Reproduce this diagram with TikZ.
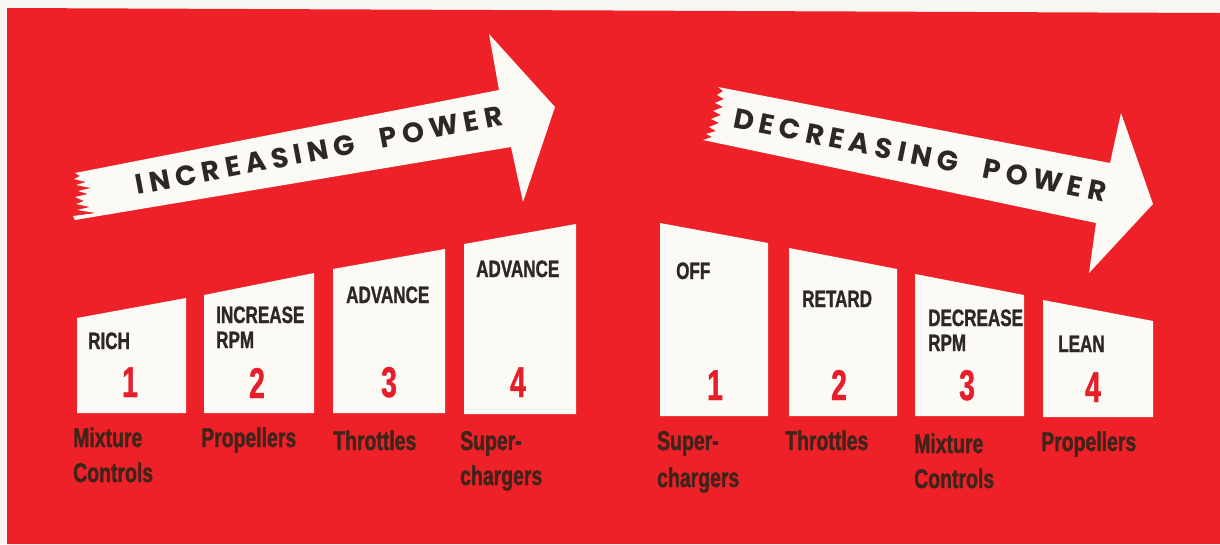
\documentclass[tikz,border=0pt]{standalone}
\usepackage{fontspec}
\newfontfamily\condfont{Liberation Sans}[FakeStretch=0.72,FakeBold=1.2]
\newfontfamily\numfont{Liberation Sans}[FakeStretch=0.66,FakeBold=1]
\newfontfamily\arrowfont{Poppins}[LetterSpace=20]
\definecolor{bgred}{RGB}{238,32,40}
\definecolor{numred}{RGB}{230,30,42}
\definecolor{cardwhite}{RGB}{252,250,245}
\definecolor{paper}{RGB}{248,246,240}
\definecolor{labgray}{RGB}{44,40,40}
\definecolor{labbrown}{RGB}{62,36,26}
\tikzset{
  card/.style={fill=cardwhite},
  toplab/.style={anchor=base west, inner sep=0pt, font=\condfont\bfseries\fontsize{23.7}{24}\selectfont, text=labgray},
  botlab/.style={anchor=base west, inner sep=0pt, font=\condfont\bfseries\fontsize{27}{28}\selectfont, text=labbrown},
  numlab/.style={anchor=base, inner sep=0pt, font=\numfont\bfseries\fontsize{43}{44}\selectfont, text=numred},
  arrowtxt/.style={anchor=base, inner sep=0pt, font=\arrowfont\bfseries\fontsize{28}{30}\selectfont, text=labgray}
}
\begin{document}
\begin{tikzpicture}[x=1pt,y=-1pt]
\useasboundingbox (0,0) rectangle (1220,544);
\fill[paper] (0,0) rectangle (1220,544);
\fill[bgred] (7,8) -- (1220,13) -- (1220,544) -- (7,544) -- cycle;

% increasing arrow
\fill[cardwhite] (75,173) -- (499,90) -- (489,34) -- (555,107) -- (523,202) -- (511,147) -- (75,220)
  -- (73,216) -- (96,213) -- (77,210) -- (90,207) -- (76,204) -- (84,201) -- (75,197) -- (88,194)
  -- (78,191) -- (91,188) -- (76,185) -- (86,182) -- (74,179) -- (80,176) -- cycle;
\node[arrowtxt, rotate=10.8] (inc) at (321,160) {INCREASING\hspace{14pt} POWER};

% decreasing arrow
\fill[cardwhite] (718,87) -- (1110,163) -- (1121,113) -- (1153,204) -- (1089,273) -- (1096,223) -- (703,140)
  -- (712,137) -- (706,134) -- (716,131) -- (709,127) -- (719,123) -- (711,119) -- (721,115)
  -- (713,111) -- (723,107) -- (715,103) -- (724,99) -- (717,95) -- (723,91) -- cycle;
\node[arrowtxt, rotate=-11.4] (dec) at (918,165) {DECREASING\hspace{14pt} POWER};

% left cards
\fill[card] (77,413) -- (77,318) -- (186,298) -- (186,413) -- cycle;
\fill[card] (204,413) -- (204,295) -- (314,273) -- (314,413) -- cycle;
\fill[card] (333,413) -- (333,269) -- (445,249) -- (445,413) -- cycle;
\fill[card] (464,414) -- (464,244) -- (576,224) -- (576,414) -- cycle;
% right cards
\fill[card] (660,416) -- (660,223) -- (768,243) -- (768,416) -- cycle;
\fill[card] (789,416) -- (789,248) -- (897,269) -- (897,416) -- cycle;
\fill[card] (915,416) -- (915,274) -- (1024,295) -- (1024,416) -- cycle;
\fill[card] (1043,417) -- (1043,300) -- (1153,321) -- (1153,417) -- cycle;

% left labels
\node[toplab] (l1t) at (88,349) {RICH};
\node[numlab] (l1n) at (130,397) {1};
\node[botlab] (l1b) at (73,447) {Mixture};
\node[botlab] (l1c) at (73,482) {Controls};

\node[toplab] (l2t) at (216,323) {INCREASE};
\node[toplab] (l2u) at (216,348) {RPM};
\node[numlab] (l2n) at (257,398) {2};
\node[botlab] (l2b) at (201,447) {Propellers};

\node[toplab] (l3t) at (346,303) {ADVANCE};
\node[numlab] (l3n) at (389,397) {3};
\node[botlab] (l3b) at (333,450) {Throttles};

\node[toplab] (l4t) at (476,277) {ADVANCE};
\node[numlab] (l4n) at (518,397) {4};
\node[botlab] (l4b) at (460,450) {Super-};
\node[botlab] (l4c) at (460,485) {chargers};

% right labels
\node[toplab] (r1t) at (676,279) {OFF};
\node[numlab] (r1n) at (715,400) {1};
\node[botlab] (r1b) at (657,450) {Super-};
\node[botlab] (r1c) at (657,487) {chargers};

\node[toplab] (r2t) at (802,307) {RETARD};
\node[numlab] (r2n) at (839,400) {2};
\node[botlab] (r2b) at (785,450) {Throttles};

\node[toplab] (r3t) at (928,326) {DECREASE};
\node[toplab] (r3u) at (928,351) {RPM};
\node[numlab] (r3n) at (967,400) {3};
\node[botlab] (r3b) at (914,453) {Mixture};
\node[botlab] (r3c) at (914,488) {Controls};

\node[toplab] (r4t) at (1058,352) {LEAN};
\node[numlab] (r4n) at (1093,402) {4};
\node[botlab] (r4b) at (1041,451) {Propellers};
\end{tikzpicture}
\end{document}
